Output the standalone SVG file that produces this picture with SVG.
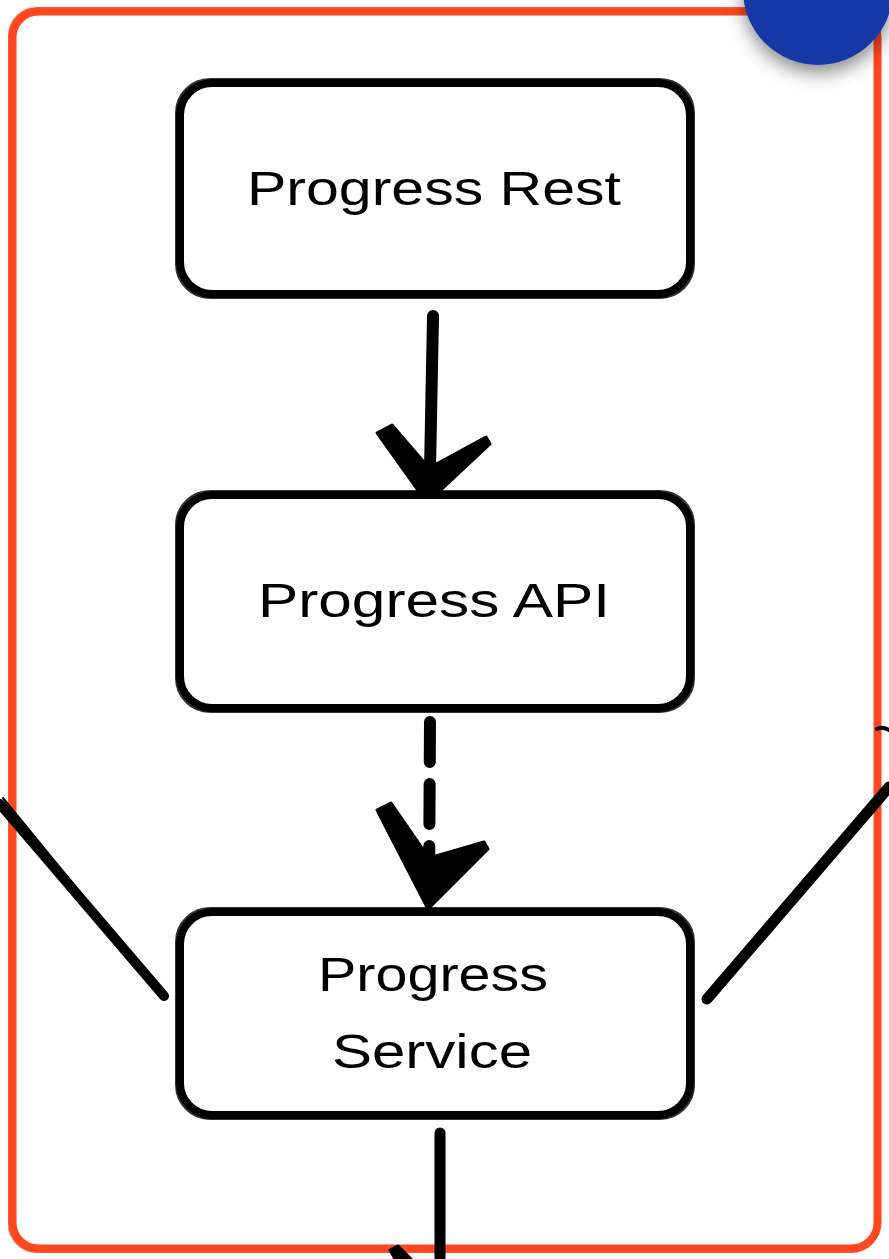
<svg xmlns="http://www.w3.org/2000/svg" width="889" height="1259" viewBox="0 0 889 1259">
<defs>
<style>
.frame{fill:none;stroke:#ff4720;stroke-linecap:round}
.box{fill:#ffffff;stroke:#000;stroke-width:8}
.box2{fill:none;stroke:#000;stroke-width:2;opacity:0.8}
.lbl{font-family:"Liberation Sans",Arial,sans-serif;font-size:48px;fill:#000;text-anchor:middle}
.conn{stroke:#000;fill:none;stroke-linecap:round}
.head{fill:#000;stroke:#000;stroke-width:3;stroke-linejoin:round}
</style>
<filter id="sh" x="-50%" y="-50%" width="200%" height="200%">
<feDropShadow dx="0" dy="8" stdDeviation="9" flood-color="#000" flood-opacity="0.45"/>
</filter>
</defs>
<rect width="889" height="1259" fill="#ffffff"/>
<g id="container">
<rect class="frame" x="12.5" y="11.5" width="865" height="1237" rx="26" stroke-width="8"/>
<rect class="frame" x="9" y="8" width="870" height="1244" rx="28" stroke-width="2" opacity="0.8"/>
</g>
<g id="badge">
<circle cx="818" cy="-10" r="75" fill="#1738a6" filter="url(#sh)"/>
</g>
<g id="connectors">
<path class="conn" d="M433 316 L430 470" stroke-width="12"/>
<path class="conn" d="M437 318 L433 460" stroke-width="3"/>
<path class="head" d="M377 433 L392 425 L429 468 L486 437 L490 444 L427 503 Z"/>
<path class="conn" d="M430 722 L429 892" stroke-width="12" stroke-dasharray="40 22"/>
<path class="head" d="M377 810 L391 803 L429 858 L484 842 L488 849 L428 909 Z"/>
<path class="conn" d="M440 1133 L440 1259" stroke-width="11"/>
<path class="head" d="M390 1250 L398 1246 L411 1259 L395 1259 Z"/>
<path class="conn" d="M0 804 L164 996" stroke-width="10"/>
<path class="conn" d="M3 798 L160 990" stroke-width="2"/>
<path class="conn" d="M889 787 L707 999" stroke-width="11"/>
<path class="conn" d="M886 796 L712 993" stroke-width="2"/>
<path class="conn" d="M877 729 Q882 726 889 730" stroke-width="4"/>
</g>
<g id="node-rest">
<rect class="box" x="180" y="83" width="510" height="211" rx="32"/>
<rect class="box2" x="176" y="79" width="518" height="219" rx="34"/>
<text class="lbl" x="434" y="205" textLength="374" lengthAdjust="spacingAndGlyphs">Progress Rest</text>
</g>
<g id="node-api">
<rect class="box" x="180" y="495" width="510" height="213" rx="32"/>
<rect class="box2" x="176" y="491" width="518" height="221" rx="34"/>
<text class="lbl" x="434" y="617" textLength="352" lengthAdjust="spacingAndGlyphs">Progress API</text>
</g>
<g id="node-service">
<rect class="box" x="180" y="912" width="510" height="203" rx="32"/>
<rect class="box2" x="176" y="908" width="518" height="211" rx="34"/>
<text class="lbl" x="433" y="991" textLength="230" lengthAdjust="spacingAndGlyphs">Progress</text>
<text class="lbl" x="432" y="1068" textLength="200" lengthAdjust="spacingAndGlyphs">Service</text>
</g>
</svg>
